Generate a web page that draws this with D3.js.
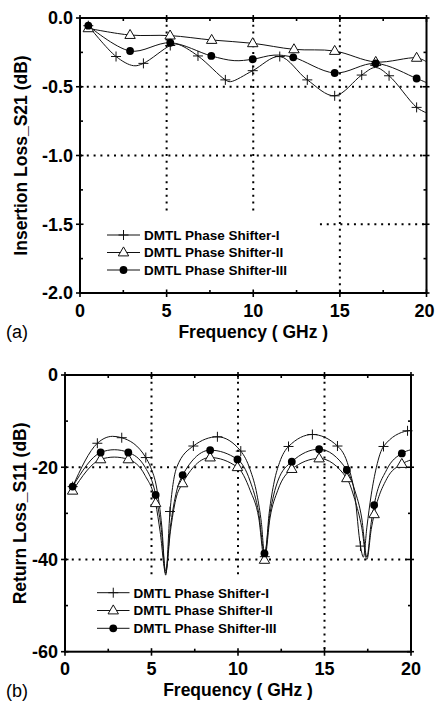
<!DOCTYPE html>
<html>
<head>
<meta charset="utf-8">
<script src="https://cdn.jsdelivr.net/npm/d3@7/dist/d3.min.js"></script>
<style>
  html, body { margin: 0; padding: 0; background: #fff; }
  svg { display: block; }
  text { font-family: "Liberation Sans", Arial, Helvetica, sans-serif; fill: #000; }
</style>
</head>
<body>
<svg id="chart" width="435" height="702"></svg>
<script>
// ---------- (a) Insertion loss S21 (dB) vs frequency (GHz) ----------
const s21FreqI   = [0.48, 2.08, 3.09, 3.66, 5.21, 5.6, 6.81, 8.39, 8.68, 9.97, 11.53, 13.12, 14.7, 16.26, 17.05, 17.84, 19.43, 20];
const s21ValI    = [-0.056, -0.28, -0.347, -0.33, -0.2, -0.19, -0.276, -0.45, -0.463, -0.383, -0.28, -0.45, -0.566, -0.415, -0.36, -0.42, -0.65, -0.69];
const s21MarksI  = [0.48, 2.08, 3.66, 5.21, 6.81, 8.39, 9.97, 11.53, 13.12, 14.7, 16.26, 17.84, 19.43];

const s21FreqII  = [0.48, 2.89, 5.2, 7.6, 9.97, 12.35, 14.7, 17.07, 19.43, 20];
const s21ValII   = [-0.075, -0.124, -0.128, -0.16, -0.184, -0.228, -0.24, -0.32, -0.29, -0.318];
const s21MarksII = [0.48, 2.89, 5.2, 7.6, 9.97, 12.35, 14.7, 17.07, 19.43];

const s21FreqIII  = [0.48, 2.89, 5.21, 7.58, 8.9, 9.97, 11.2, 12.31, 14.7, 17.07, 19.43, 20];
const s21ValIII   = [-0.056, -0.24, -0.18, -0.276, -0.31, -0.30, -0.27, -0.286, -0.40, -0.33, -0.44, -0.47];
const s21MarksIII = [0.48, 2.89, 5.21, 7.58, 9.97, 12.31, 14.7, 17.07, 19.43];

const s21TickVals   = [0, -0.5, -1, -1.5, -2];
const s21TickLabels = ["0.0", "-0.5", "-1.0", "-1.5", "-2.0"];
const s21MinorTicks = [-0.25, -0.75, -1.25, -1.75];
const s21GridY      = [-0.5, -1, -1.5];

// ---------- (b) Return loss S11 (dB) vs frequency (GHz) ----------
const s11FreqI  = [0.44, 1.87, 2.75, 3.28, 4.67, 4.95, 5.3, 5.6, 5.82, 6.07, 6.46, 7.42, 8.81, 10.16, 10.7, 11.1, 11.35, 11.55, 11.8, 12.1, 12.4, 12.92, 14.3, 15.75, 16.4, 16.75, 17.08, 17.25, 17.45, 17.7, 18.0, 18.41, 19.8, 20];
const s11ValI   = [-24.2, -14.8, -13.3, -13.6, -17.9, -20, -24.5, -33, -43.4, -29.6, -20, -15.4, -13.4, -16.5, -20.5, -26, -32, -39.4, -30, -23, -19, -15.5, -12.9, -15.4, -20, -26, -37.1, -39.5, -33, -26, -20, -15.5, -12.1, -12];
const s11MarksI = [0.44, 1.87, 3.28, 4.67, 6.07, 7.42, 8.81, 10.16, 11.55, 12.92, 14.3, 15.75, 17.08, 18.41, 19.8];

const s11FreqII  = [0.44, 2.06, 2.85, 3.66, 4.63, 5.24, 5.5, 5.82, 6.09, 6.4, 6.8, 7.42, 8.39, 9.97, 10.7, 11.2, 11.53, 11.85, 12.3, 13.11, 14.69, 16.29, 16.75, 17.15, 17.45, 17.7, 17.87, 18.6, 19.47, 20];
const s11ValII   = [-25.1, -18.3, -17.8, -18.3, -21.8, -27.8, -34, -43, -34, -27, -23.5, -20, -17.9, -20, -25, -31, -40.1, -31, -25, -20.4, -18.1, -22.4, -27, -33, -40, -33.5, -30.2, -22.5, -19.3, -18.4];
const s11MarksII = [0.44, 2.06, 3.66, 5.24, 6.8, 8.39, 9.97, 11.53, 13.11, 14.69, 16.29, 17.87, 19.47];

const s11FreqIII  = [0.44, 2.06, 2.85, 3.66, 4.63, 5.24, 5.55, 5.82, 6.09, 6.4, 6.8, 8.39, 9.97, 10.7, 11.2, 11.53, 11.85, 12.3, 13.11, 14.69, 16.29, 16.75, 17.15, 17.45, 17.7, 17.87, 18.6, 19.47, 20];
const s11ValIII   = [-24.2, -16.8, -16.2, -16.8, -20, -26, -33, -42.5, -33, -26, -21.7, -16.3, -18.3, -23, -30, -38.7, -30, -23, -18.8, -16.1, -20.6, -25, -31, -39.5, -32, -28.2, -20.5, -17.0, -16.2];
const s11MarksIII = [0.44, 2.06, 3.66, 5.24, 6.8, 8.39, 9.97, 11.53, 13.11, 14.69, 16.29, 17.87, 19.47];

const s11TickVals   = [0, -20, -40, -60];
const s11TickLabels = ["0", "-20", "-40", "-60"];
const s11MinorTicks = [-10, -30, -50];
const s11GridY      = [-20, -40];

// ---------- shared ----------
const freqTickVals   = [0, 5, 10, 15, 20];
const freqTickLabels = ["0", "5", "10", "15", "20"];
const freqMinorTicks = [2.5, 7.5, 12.5, 17.5];
const freqGridX      = [5, 10, 15];
const seriesNames    = ["DMTL Phase Shifter-I", "DMTL Phase Shifter-II", "DMTL Phase Shifter-III"];
const seriesSymbols  = ["plus", "triangle", "circle"];

const W = 435;
const svg = d3.select("#chart");

function drawMarker(g, kind, cx, cy) {
  if (kind === "plus") {
    g.append("path")
      .attr("d", `M${cx - 5},${cy}H${cx + 5}M${cx},${cy - 5}V${cy + 5}`)
      .attr("stroke", "#111").attr("stroke-width", 1).attr("fill", "none");
  } else if (kind === "triangle") {
    g.append("path")
      .attr("d", `M${cx},${cy - 5.6}L${cx + 5.2},${cy + 3.4}L${cx - 5.2},${cy + 3.4}Z`)
      .attr("stroke", "#111").attr("stroke-width", 1).attr("fill", "#fff");
  } else {
    g.append("circle").attr("cx", cx).attr("cy", cy).attr("r", 3.9).attr("fill", "#000");
  }
}

function panel(cfg) {
  const g = svg.append("g");
  const x = d3.scaleLinear().domain([0, 20]).range([cfg.left, cfg.right]);
  const y = d3.scaleLinear().domain(cfg.yDomain).range([cfg.bottom, cfg.top]);
  const [y0, y1] = cfg.yDomain;

  // dotted grid (the legend area is left clear)
  const grid = g.append("g").attr("stroke", "#000").attr("stroke-width", 2)
    .attr("stroke-dasharray", "2,4.8");
  cfg.gridY.forEach(v => {
    const xs = v === cfg.legendBox.gridCutY ? x(cfg.legendBox.x1) : x(0);
    grid.append("line").attr("x1", xs).attr("x2", x(20)).attr("y1", y(v)).attr("y2", y(v));
  });
  freqGridX.forEach(f => {
    const yEnd = f < cfg.legendBox.x1 ? y(cfg.legendBox.yTop) : y(y0);
    grid.append("line").attr("x1", x(f)).attr("x2", x(f)).attr("y1", y(y1)).attr("y2", yEnd);
  });

  // curves, then markers on top
  const line = d3.line().x(d => x(d[0])).y(d => y(d[1])).curve(cfg.curve);
  cfg.series.forEach(s => {
    const pts = s.freq.map((f, i) => [f, s.val[i]]);
    g.append("path").attr("d", line(pts)).attr("fill", "none")
      .attr("stroke", "#111").attr("stroke-width", 1);
  });
  cfg.series.forEach(s => {
    s.freq.forEach((f, i) => {
      if (s.marks.includes(f)) drawMarker(g, s.symbol, x(f), y(s.val[i]));
    });
  });

  // frame
  g.append("rect").attr("x", x(0)).attr("y", y(y1))
    .attr("width", x(20) - x(0)).attr("height", y(y0) - y(y1))
    .attr("fill", "none").attr("stroke", "#000").attr("stroke-width", 2);

  // ticks: major ones cross the frame, minor ones point inward
  const tk = g.append("g").attr("stroke", "#000").attr("stroke-width", 1.6);
  freqTickVals.forEach(f => {
    tk.append("line").attr("x1", x(f)).attr("x2", x(f)).attr("y1", y(y0) - 3.5).attr("y2", y(y0) + 4);
    tk.append("line").attr("x1", x(f)).attr("x2", x(f)).attr("y1", y(y1) - 3).attr("y2", y(y1) + 4);
  });
  freqMinorTicks.forEach(f => {
    tk.append("line").attr("x1", x(f)).attr("x2", x(f)).attr("y1", y(y0)).attr("y2", y(y0) - 3);
    tk.append("line").attr("x1", x(f)).attr("x2", x(f)).attr("y1", y(y1)).attr("y2", y(y1) + 3);
  });
  cfg.yTicks.forEach(v => {
    tk.append("line").attr("x1", x(0) - 4).attr("x2", x(0) + 3.5).attr("y1", y(v)).attr("y2", y(v));
    tk.append("line").attr("x1", x(20) - 4).attr("x2", x(20) + 3).attr("y1", y(v)).attr("y2", y(v));
  });
  cfg.yMinor.forEach(v => {
    tk.append("line").attr("x1", x(0)).attr("x2", x(0) + 3).attr("y1", y(v)).attr("y2", y(v));
    tk.append("line").attr("x1", x(20)).attr("x2", x(20) - 3).attr("y1", y(v)).attr("y2", y(v));
  });

  // tick labels (kept inside the page width)
  freqTickVals.forEach((f, i) => {
    const t = g.append("text").attr("x", x(f)).attr("y", cfg.xLabelBase)
      .attr("text-anchor", "middle").attr("font-size", 18).attr("font-weight", "bold")
      .text(freqTickLabels[i]);
    const bb = t.node().getBBox();
    if (bb.x + bb.width > W - 0.5) t.attr("x", x(f) - (bb.x + bb.width - (W - 0.5)));
  });
  cfg.yTicks.forEach((v, i) => {
    g.append("text").attr("x", x(0) - 7).attr("y", y(v)).attr("dy", "0.36em")
      .attr("text-anchor", "end").attr("font-size", 18).attr("font-weight", "bold")
      .text(cfg.yLabels[i]);
  });

  // axis titles
  g.append("text").attr("x", (x(0) + x(20)) / 2).attr("y", cfg.xTitleBase)
    .attr("text-anchor", "middle").attr("font-size", 17.5).attr("font-weight", "bold")
    .text("Frequency ( GHz )");
  g.append("text")
    .attr("transform", `translate(${cfg.yTitleX},${(y(y0) + y(y1)) / 2}) rotate(-90)`)
    .attr("text-anchor", "middle").attr("font-size", 17.5).attr("font-weight", "bold")
    .text(cfg.yTitle);

  // panel tag
  g.append("text").attr("x", 6).attr("y", cfg.tagBase).attr("font-size", 18)
    .text(cfg.tag);

  // legend
  const lg = g.append("g");
  seriesNames.forEach((name, i) => {
    const ly = cfg.legend.y0 + i * cfg.legend.dy;
    lg.append("line").attr("x1", cfg.legend.x1).attr("x2", cfg.legend.x2)
      .attr("y1", ly).attr("y2", ly).attr("stroke", "#111").attr("stroke-width", 1);
    drawMarker(lg, seriesSymbols[i], (cfg.legend.x1 + cfg.legend.x2) / 2, ly);
    lg.append("text").attr("x", cfg.legend.x2 + 4).attr("y", ly).attr("dy", "0.36em")
      .attr("font-size", 13.5).attr("font-weight", "bold").text(name);
  });
}

panel({
  left: 80, right: 426.5, top: 18, bottom: 293,
  yDomain: [-2, 0],
  yTicks: s21TickVals, yLabels: s21TickLabels, yMinor: s21MinorTicks,
  gridY: s21GridY,
  legendBox: { x1: 13.85, yTop: -1.43, gridCutY: -1.5 },
  curve: d3.curveCatmullRom.alpha(0.5),
  series: [
    { freq: s21FreqI, val: s21ValI, marks: s21MarksI, symbol: "plus" },
    { freq: s21FreqII, val: s21ValII, marks: s21MarksII, symbol: "triangle" },
    { freq: s21FreqIII, val: s21ValIII, marks: s21MarksIII, symbol: "circle" }
  ],
  xLabelBase: 316.5, xTitleBase: 338, tagBase: 338, yTitleX: 27,
  yTitle: "Insertion Loss_S21 (dB)", tag: "(a)",
  legend: { x1: 107, x2: 140, y0: 235, dy: 17.5 }
});

panel({
  left: 65, right: 411, top: 375, bottom: 651.7,
  yDomain: [-60, 0],
  yTicks: s11TickVals, yLabels: s11TickLabels, yMinor: s11MinorTicks,
  gridY: s11GridY,
  legendBox: { x1: 13.5, yTop: -43.2, gridCutY: null },
  curve: d3.curveMonotoneX,
  series: [
    { freq: s11FreqI, val: s11ValI, marks: s11MarksI, symbol: "plus" },
    { freq: s11FreqII, val: s11ValII, marks: s11MarksII, symbol: "triangle" },
    { freq: s11FreqIII, val: s11ValIII, marks: s11MarksIII, symbol: "circle" }
  ],
  xLabelBase: 675, xTitleBase: 695.5, tagBase: 696.5, yTitleX: 25.5,
  yTitle: "Return Loss_S11 (dB)", tag: "(b)",
  legend: { x1: 97, x2: 129.5, y0: 592.7, dy: 17.8 }
});
</script>
</body>
</html>
